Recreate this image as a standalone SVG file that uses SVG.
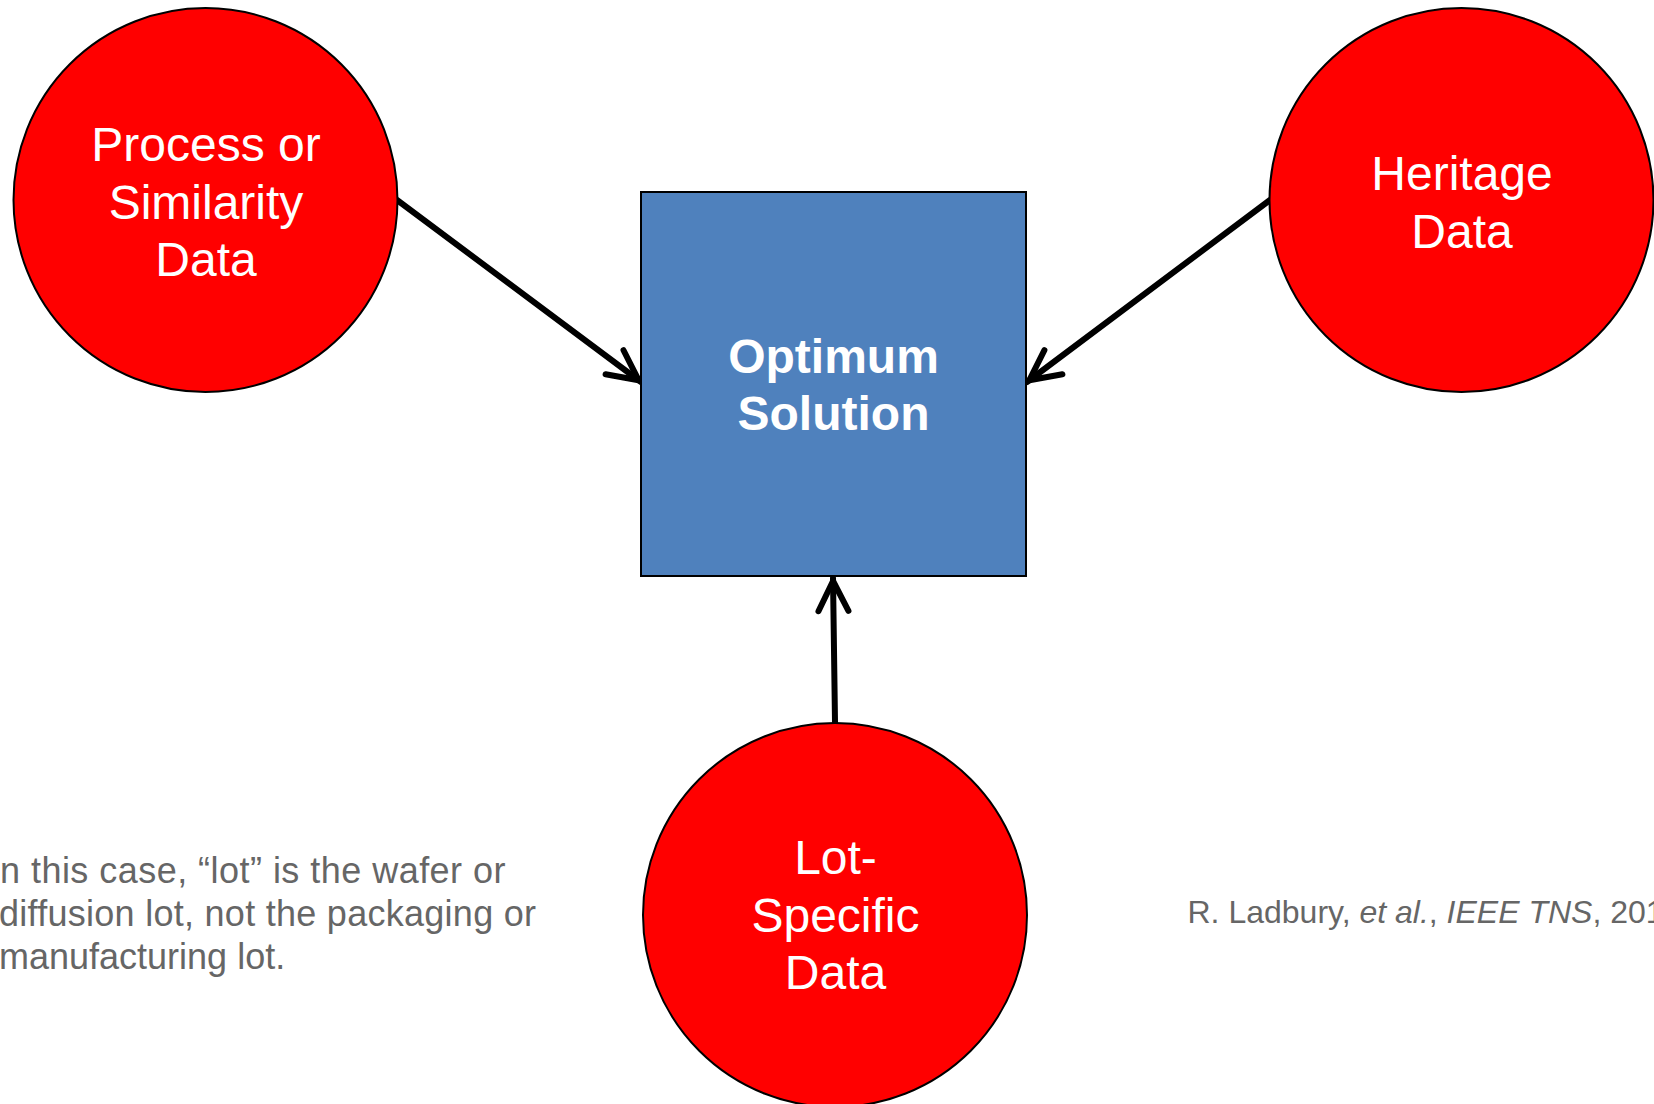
<svg xmlns="http://www.w3.org/2000/svg" width="1654" height="1104" viewBox="0 0 1654 1104">
  <style>
    .src { fill: #FF0000; stroke: #000000; stroke-width: 2; }
    .box { fill: #4F81BD; stroke: #000000; stroke-width: 2; }
    .lbl { font-family: "Liberation Sans", Arial, sans-serif; font-size: 48px; fill: #FFFFFF; text-anchor: middle; }
    .bold { font-weight: bold; }
    .note { font-family: "Liberation Sans", Arial, sans-serif; fill: #666666; }
    .conn { stroke: #000000; stroke-width: 6; fill: none; stroke-linecap: round; }
  </style>
  <defs>
    <marker id="arrow" markerUnits="userSpaceOnUse" viewBox="-40 -25 50 50" markerWidth="50" markerHeight="50" refX="3" refY="0" orient="auto" overflow="visible">
      <path d="M-30,-15 L0,0 L-30,15" fill="none" stroke="#000000" stroke-width="6" stroke-linecap="round" stroke-linejoin="round"/>
    </marker>
  </defs>
  <rect width="1654" height="1104" fill="#FFFFFF"/>

  <g id="connectors">
    <line class="conn" x1="397" y1="200" x2="641" y2="382" marker-end="url(#arrow)"/>
    <line class="conn" x1="1270" y1="200" x2="1027" y2="382" marker-end="url(#arrow)"/>
    <line class="conn" x1="835" y1="722" x2="833" y2="578" marker-end="url(#arrow)"/>
  </g>

  <g id="node-process">
    <circle class="src" cx="205.5" cy="200" r="192"/>
    <text class="lbl"><tspan x="206" y="161">Process or</tspan><tspan x="206" y="218.6">Similarity</tspan><tspan x="206" y="276.2">Data</tspan></text>
  </g>

  <g id="node-heritage">
    <circle class="src" cx="1461.5" cy="200" r="192"/>
    <text class="lbl"><tspan x="1462" y="190">Heritage</tspan><tspan x="1462" y="247.6">Data</tspan></text>
  </g>

  <g id="node-optimum">
    <rect class="box" x="641" y="192" width="385" height="384"/>
    <text class="lbl bold"><tspan x="833.5" y="372.7">Optimum</tspan><tspan x="833.5" y="430.3">Solution</tspan></text>
  </g>

  <g id="node-lot">
    <circle class="src" cx="835" cy="915" r="192"/>
    <text class="lbl"><tspan x="835.5" y="874">Lot-</tspan><tspan x="835.5" y="931.6">Specific</tspan><tspan x="835.5" y="989.2">Data</tspan></text>
  </g>

  <g id="note">
    <text class="note" font-size="36" x="-10.5" y="883" textLength="516" lengthAdjust="spacing">In this case, “lot” is the wafer or</text>
    <text class="note" font-size="36" x="-1" y="926" textLength="537" lengthAdjust="spacing">diffusion lot, not the packaging or</text>
    <text class="note" font-size="36" x="-1" y="969">manufacturing lot.</text>
  </g>

  <g id="citation">
    <text class="note" font-size="32" x="1187.5" y="923">R. Ladbury, <tspan font-style="italic">et al.</tspan>, <tspan font-style="italic">IEEE TNS</tspan>, 201</text>
  </g>
</svg>
